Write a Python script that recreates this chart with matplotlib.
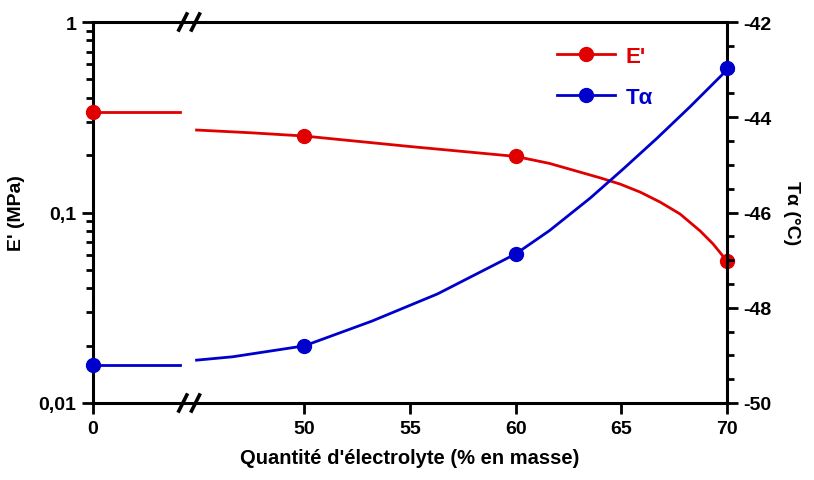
import numpy as np
import matplotlib.pyplot as plt

plt.rcParams['font.family'] = ['Liberation Sans', 'DejaVu Sans']
plt.rcParams['font.weight'] = 'bold'
plt.rcParams['axes.unicode_minus'] = False

# Mesures (x = quantité d'électrolyte, % en masse)
x_pts = np.array([0, 50, 60, 70])
E_pts = np.array([0.337, 0.252, 0.197, 0.0556])     # E' (MPa)
T_pts = np.array([-49.2, -48.80, -46.87, -42.96])   # Tα (°C)

# Courbes lissées (partie droite de l'axe)
x_fitE = np.array([44.9, 47.5, 50, 55, 60, 61.6, 64.0, 64.94, 65.89, 66.83, 67.78, 68.73, 69.34, 70])
E_fit = np.array([0.271, 0.262, 0.252, 0.222, 0.197, 0.181, 0.152, 0.141, 0.128, 0.1135, 0.0982, 0.080, 0.0684, 0.0556])
x_fitT = np.array([44.9, 46.6, 50, 53.2, 56.3, 60, 61.6, 63.52, 65.08, 66.69, 68.25, 69.81, 70])
T_fit = np.array([-49.10, -49.03, -48.80, -48.28, -47.71, -46.87, -46.38, -45.70, -45.09, -44.44, -43.78, -43.09, -42.96])

# axe coupé : la valeur 0 est placée en 40
x0_pos = 40
brk = 44.1          # fin du segment à gauche de la coupure
x_ticks = [0, 50, 55, 60, 65, 70]

def pos(x):
    x = np.asarray(x, dtype=float)
    return np.where(x == 0, x0_pos, x)

red = '#E00000'
blue = '#0000CC'
lw = 2.0

fig = plt.figure(figsize=(8.14, 4.81), dpi=100)
ax = fig.add_axes([93/814, 77/481, 634/814, 381/481])
ax2 = ax.twinx()

# E'
ax.plot([pos(0), brk], [E_pts[0], E_pts[0]], color=red, lw=lw)
ax.plot(x_fitE, E_fit, color=red, lw=lw)
ax.plot(pos(x_pts), E_pts, 'o', color=red, ms=10, clip_on=False, zorder=5)
# Tα
ax2.plot([pos(0), brk], [T_pts[0], T_pts[0]], color=blue, lw=lw)
ax2.plot(x_fitT, T_fit, color=blue, lw=lw)
ax2.plot(pos(x_pts), T_pts, 'o', color=blue, ms=10, clip_on=False, zorder=5)

ax.set_yscale('log')
ax.set_ylim(0.01, 1)
ax.set_yticks([0.01, 0.1, 1])
ax.set_yticklabels(['0,01', '0,1', '1'])
ax2.set_ylim(-50, -42)
ax2.set_yticks(np.arange(-50, -41, 2))
ax2.set_yticks(np.arange(-50, -41.9, 0.5), minor=True)
ax.set_xlim(x0_pos, 70)
ax.set_xticks(pos(x_ticks))
ax.set_xticklabels([str(v) for v in x_ticks])

for a in (ax, ax2):
    for s in a.spines.values():
        s.set_linewidth(2.2)
    a.tick_params(which='major', length=8, width=2, labelsize=14, pad=4)
    a.tick_params(which='minor', length=5, width=2)
ax.spines['right'].set_visible(False)
ax2.spines['left'].set_visible(False)
ax2.spines['top'].set_visible(False)
ax2.spines['bottom'].set_visible(False)

ax.set_xlabel("Quantité d'électrolyte (% en masse)", fontsize=14.5, fontweight='bold', labelpad=8)
ax.set_ylabel("E' (MPa)", fontsize=14, fontweight='bold', labelpad=10)
ax2.set_ylabel("Tα (°C)", fontsize=14, fontweight='bold', rotation=270, labelpad=20)

# marques de coupure (//) sur les axes du bas et du haut
fig.canvas.draw()
for yb in (0, 1):
    for xb in (44.25, 44.85):
        px = ax.transData.transform((xb, 1))[0]
        py = ax.transAxes.transform((0, yb))[1]
        fig.add_artist(plt.Line2D([(px - 4) / 814, (px + 4) / 814],
                                  [(py - 8) / 481, (py + 8) / 481],
                                  color='black', lw=2.6, transform=fig.transFigure))

h = [plt.Line2D([], [], color=red, marker='o', ms=10, lw=lw),
     plt.Line2D([], [], color=blue, marker='o', ms=10, lw=lw)]
leg = ax.legend(h, ["E'", 'Tα'], loc='upper left', bbox_to_anchor=(0.70, 0.99),
                frameon=False, handlelength=2.6, handletextpad=0.5,
                labelspacing=0.9, prop={'weight': 'bold', 'size': 16})
for t, c in zip(leg.get_texts(), (red, blue)):
    t.set_color(c)

fig.savefig('out.png', dpi=100)
